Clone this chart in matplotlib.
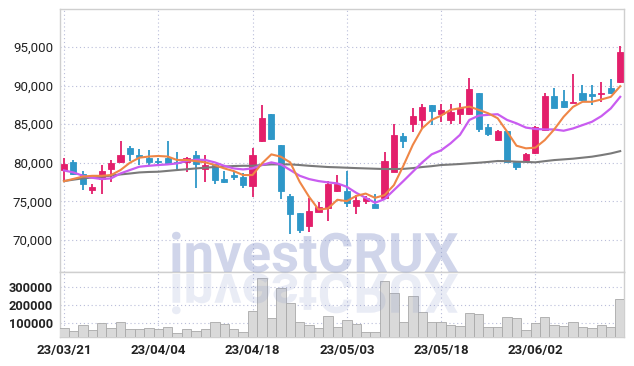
import numpy as np
import matplotlib.pyplot as plt
from matplotlib.patches import PathPatch
from matplotlib.textpath import TextPath
from matplotlib.font_manager import FontProperties
from matplotlib.transforms import Affine2D, IdentityTransform

plt.rcParams['font.family'] = ['Roboto', 'DejaVu Sans']

# x tick labels (every 10 trading days)
tick_pos = [0, 10, 20, 30, 40, 50]
tick_labels = ['23/03/21', '23/04/04', '23/04/18', '23/05/03', '23/05/18', '23/06/02']

# daily candles
opens = [79050, 80040, 78530, 76500, 77840, 79130, 80040, 81950, 80950, 80650,
         80200, 80560, 80130, 80130, 81000, 79220, 79780, 77880, 78400, 78140,
         77010, 82860, 86280, 82300, 75670, 73500, 71820, 73640, 74160, 76360,
         76320, 74420, 75020, 74680, 75450, 78830, 83460, 85060, 85500, 87490,
         86360, 85580, 86280, 86360, 89090, 84680, 82940, 84110, 80040, 80300,
         81210, 84220, 88620, 87970, 87670, 89000, 88880, 88840, 89700, 90470]
highs = [80560, 80390, 78960, 77200, 79700, 80350, 82810, 82120, 81770, 81640,
         80560, 82810, 81340, 80700, 81500, 81000, 79870, 78960, 78960, 78660,
         81950, 87490, 86280, 82300, 76000, 73500, 75450, 74930, 77620, 78400,
         78950, 75800, 75710, 76000, 81340, 84980, 83810, 87140, 87580, 87490,
         87660, 87580, 87710, 90950, 89090, 84980, 84240, 84110, 80040, 81200,
         84740, 88970, 89740, 89480, 91470, 90040, 90040, 90390, 90780, 95090]
lows = [77620, 78400, 76400, 75970, 75900, 77450, 79910, 80200, 79700, 79600,
        79700, 79700, 79130, 78830, 76670, 77530, 77270, 77360, 77700, 76750,
        75580, 82730, 82990, 75280, 70820, 70950, 71040, 73550, 72420, 76230,
        74290, 73290, 74590, 74070, 75370, 78740, 81860, 84030, 84370, 84890,
        85320, 85060, 84980, 86190, 84030, 83510, 82860, 80040, 79050, 80040,
        81120, 84140, 87030, 87110, 87670, 88020, 87460, 87890, 88880, 90340]
closes = [79780, 78480, 77270, 76840, 78870, 79910, 81000, 81130, 80780, 80040,
          80100, 79830, 79960, 80560, 79870, 79740, 77800, 77490, 78180, 77100,
          80990, 85840, 83070, 76300, 73330, 71260, 73720, 74240, 77190, 77190,
          74720, 75150, 75410, 74160, 80220, 83590, 82860, 86060, 87230, 86710,
          86880, 86620, 87060, 89570, 84370, 83680, 84160, 80040, 79440, 81150,
          84570, 88620, 87110, 87240, 87760, 88100, 88660, 89050, 89050, 94350]

# moving averages as drawn (thousands)
ma_short = [77.6, 77.9, 78.2, 78.3, 78.3, 78.4, 79.05, 80.0, 80.65, 80.8,
            80.87, 80.8, 80.35, 80.35, 80.2, 80.04, 79.7, 79.26, 78.92, 78.4,
            78.4, 79.9, 81.08, 80.78, 80.04, 77.53, 75.58, 73.94, 74.07, 75.2,
            75.02, 75.7, 76.0, 75.45, 75.8, 77.1, 79.6, 82.3, 84.46, 85.54,
            86.1, 86.84, 87.06, 87.27, 86.84, 86.4, 85.76, 84.03, 82.2, 81.86,
            81.95, 82.93, 84.31, 85.95, 87.24, 87.89, 87.89, 88.19, 88.53, 89.91]
ma_mid = [79.0, 78.74, 78.31, 78.05, 77.88, 77.97, 78.61, 79.05, 79.48, 79.6,
          79.7, 79.78, 79.91, 80.22, 80.39, 80.35, 80.04, 79.6, 79.26, 79.13,
          79.26, 79.7, 80.04, 79.78, 79.05, 78.31, 77.88, 77.62, 77.45, 77.32,
          76.88, 76.1, 75.45, 74.81, 75.28, 76.45, 77.62, 78.83, 80.04, 81.08,
          81.6, 82.5, 83.6, 85.54, 86.1, 86.2, 86.28, 85.54, 85.1, 84.55,
          84.37, 84.31, 84.31, 84.14, 84.44, 84.87, 85.3, 86.03, 87.03, 88.53]
ma_long = [77.62, 77.8, 77.97, 78.08, 78.18, 78.33, 78.48, 78.6, 78.74, 78.8,
           78.83, 78.94, 79.05, 79.15, 79.26, 79.35, 79.44, 79.5, 79.57, 79.6,
           79.6, 79.7, 79.78, 79.78, 79.78, 79.7, 79.6, 79.52, 79.44, 79.4,
           79.35, 79.3, 79.26, 79.22, 79.18, 79.18, 79.2, 79.3, 79.44, 79.55,
           79.7, 79.76, 79.83, 79.92, 80.0, 80.1, 80.22, 80.2, 80.13, 80.1,
           80.05, 80.2, 80.34, 80.43, 80.52, 80.65, 80.78, 80.98, 81.2, 81.5]

volume = [68000, 51000, 87000, 58000, 98000, 68000, 102000, 62000, 62000, 68000,
          62000, 74000, 39000, 62000, 51000, 62000, 106000, 93000, 62000, 45000,
          165000, 354000, 125000, 298000, 211000, 106000, 85000, 68000, 138000, 74000,
          114000, 91000, 45000, 45000, 337000, 268000, 106000, 251000, 159000, 106000,
          106000, 85000, 79000, 154000, 148000, 74000, 74000, 131000, 125000, 57000,
          96000, 131000, 85000, 79000, 102000, 74000, 68000, 85000, 74000, 234000]

up_color = '#e31f6b'
down_color = '#2e97c8'
grid_color = '#b9bdd9'
frame_color = '#cfcfcf'

fig = plt.figure(figsize=(6.34, 3.66), dpi=100)
ax = fig.add_axes([0.0946, 0.2568, 0.8896, 0.7186])
axv = fig.add_axes([0.0946, 0.0784, 0.8896, 0.1784], sharex=ax)

x = np.arange(len(opens))
o = np.array(opens)
c = np.array(closes)
cols = [up_color if cc >= oo else down_color for oo, cc in zip(o, c)]

ax.vlines(x, lows, highs, colors=cols, lw=1.3, zorder=3)
ax.bar(x, np.maximum(np.abs(c - o), 150), bottom=np.minimum(o, c), width=0.64,
       color=cols, edgecolor=cols, lw=0.6, zorder=4)

ax.plot(x, np.array(ma_long) * 1000, color='#7a7a7a', lw=1.5, zorder=5)
ax.plot(x, np.array(ma_mid) * 1000, color='#c95cf0', lw=1.6, zorder=5)
ax.plot(x, np.array(ma_short) * 1000, color='#ef8646', lw=1.5, zorder=6)

price_ticks = [70000, 75000, 80000, 85000, 90000, 95000]
ax.set_xlim(-0.42, 59.4)
ax.set_ylim(65840, 99910)
ax.set_yticks(price_ticks)
ax.set_yticklabels(['{:,}'.format(v) for v in price_ticks])
ax.set_xticks(tick_pos)
ax.tick_params(axis='x', labelbottom=False, length=0)
ax.tick_params(axis='y', length=0, pad=5, labelsize=9.5, labelcolor='#222222')

axv.bar(x, volume, width=1.0, color='#d9d9d9', edgecolor='#a9a9a9', lw=0.6, zorder=3)
axv.set_ylim(17500, 386000)
axv.set_yticks([100000, 200000, 300000])
axv.set_yticklabels(['100000', '200000', '300000'])
axv.set_xticks(tick_pos)
axv.set_xticklabels(tick_labels)
axv.tick_params(axis='y', length=0, pad=5, labelsize=9.2, labelcolor='#222222')
axv.tick_params(axis='x', length=0, pad=5, labelsize=9.5, labelcolor='#222222')
for lab in axv.get_xticklabels() + axv.get_yticklabels():
    lab.set_fontweight('bold')

for a in [ax, axv]:
    a.grid(True, color=grid_color, lw=0.8, linestyle=(0, (1, 2.5)), zorder=0)
    for s in a.spines.values():
        s.set_color(frame_color)
        s.set_linewidth(1.0)

# watermark with mirrored reflection
fp = FontProperties(family='Roboto', weight='bold')
tp = TextPath((0, 0), 'investCRUX', size=50, prop=fp)
bb = tp.get_extents()
sc = 286 / bb.width
t1 = Affine2D().translate(-bb.x0, 0).scale(sc, sc).translate(172, 94)
t2 = Affine2D().translate(-bb.x0, 0).scale(sc, -sc).translate(172, 92)
fig.add_artist(PathPatch(t1.transform_path(tp), transform=IdentityTransform(),
                         facecolor='#8a98cc', edgecolor='none', alpha=0.4, zorder=10))
fig.add_artist(PathPatch(t2.transform_path(tp), transform=IdentityTransform(),
                         facecolor='#8a98cc', edgecolor='none', alpha=0.18, zorder=10))

fig.savefig('out.png', dpi=100)
